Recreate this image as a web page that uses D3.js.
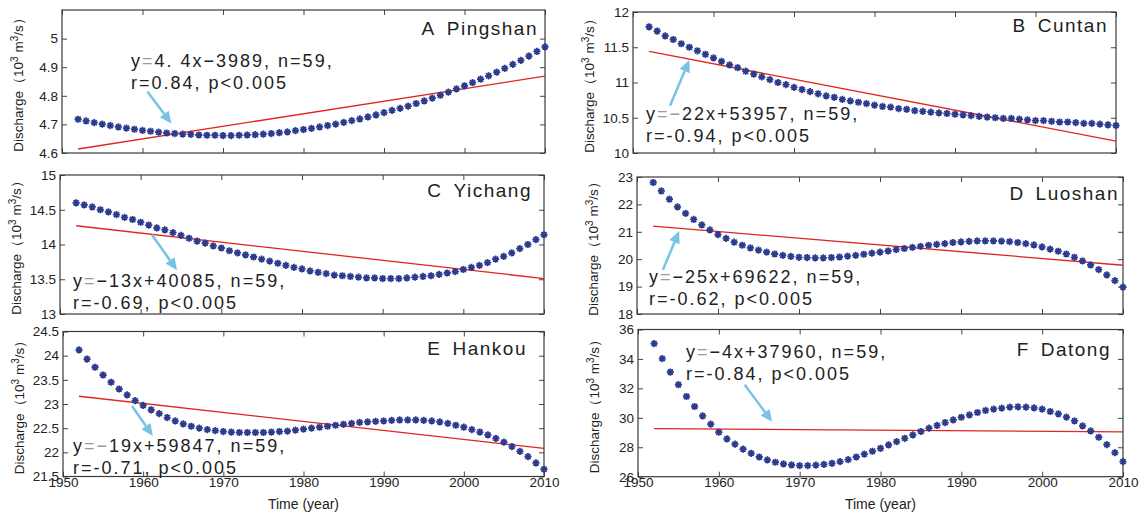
<!DOCTYPE html>
<html>
<head>
<meta charset="utf-8">
<script src="https://cdn.jsdelivr.net/npm/d3@7"></script>
<style>
  body { margin: 0; background: #fff; }
  svg { display: block; }
</style>
</head>
<body>
<svg id="root"></svg>
<script>
// years on the x axis, one point per year
const years = d3.range(1952, 2011);
const xTicks = [1950, 1960, 1970, 1980, 1990, 2000, 2010];

// discharge (10^3 m3/s)
const pingshan = [4.718, 4.712, 4.706, 4.701, 4.696, 4.691, 4.687, 4.683, 4.679, 4.676,
  4.673, 4.670, 4.668, 4.666, 4.665, 4.663, 4.662, 4.662, 4.661, 4.661,
  4.662, 4.663, 4.664, 4.666, 4.668, 4.671, 4.674, 4.678, 4.682, 4.686,
  4.691, 4.696, 4.701, 4.707, 4.713, 4.719, 4.726, 4.733, 4.741, 4.749,
  4.756, 4.764, 4.773, 4.782, 4.792, 4.802, 4.813, 4.824, 4.835, 4.846,
  4.858, 4.870, 4.883, 4.896, 4.910, 4.924, 4.939, 4.955, 4.971];
const cuntan = [11.79, 11.73, 11.66, 11.61, 11.55, 11.50, 11.45, 11.40, 11.35, 11.30,
  11.25, 11.21, 11.16, 11.12, 11.08, 11.04, 11.00, 10.97, 10.93, 10.90,
  10.87, 10.84, 10.81, 10.79, 10.76, 10.74, 10.72, 10.70, 10.68, 10.66,
  10.65, 10.63, 10.62, 10.60, 10.59, 10.58, 10.57, 10.56, 10.55, 10.54,
  10.53, 10.52, 10.51, 10.50, 10.49, 10.49, 10.48, 10.47, 10.46, 10.46,
  10.45, 10.44, 10.44, 10.43, 10.42, 10.42, 10.41, 10.40, 10.39];
const yichang = [14.60, 14.57, 14.54, 14.50, 14.47, 14.43, 14.39, 14.36, 14.32, 14.28,
  14.24, 14.21, 14.17, 14.13, 14.09, 14.05, 14.02, 13.98, 13.95, 13.91,
  13.88, 13.85, 13.82, 13.79, 13.76, 13.73, 13.70, 13.67, 13.65, 13.62,
  13.60, 13.58, 13.56, 13.55, 13.54, 13.53, 13.52, 13.52, 13.51, 13.51,
  13.51, 13.52, 13.53, 13.54, 13.55, 13.57, 13.59, 13.61, 13.64, 13.67,
  13.70, 13.74, 13.79, 13.83, 13.88, 13.94, 14.00, 14.07, 14.14];
const luoshan = [22.80, 22.49, 22.19, 21.91, 21.67, 21.45, 21.25, 21.07, 20.90, 20.76,
  20.62, 20.51, 20.41, 20.33, 20.26, 20.19, 20.14, 20.10, 20.07, 20.06,
  20.05, 20.05, 20.06, 20.08, 20.11, 20.14, 20.18, 20.22, 20.26, 20.30,
  20.35, 20.39, 20.43, 20.47, 20.51, 20.54, 20.57, 20.61, 20.63, 20.65,
  20.67, 20.67, 20.67, 20.66, 20.64, 20.61, 20.57, 20.52, 20.45, 20.37,
  20.29, 20.19, 20.07, 19.94, 19.79, 19.62, 19.43, 19.22, 18.98];
const hankou = [24.12, 23.93, 23.76, 23.60, 23.45, 23.31, 23.19, 23.07, 22.97, 22.88,
  22.80, 22.72, 22.65, 22.59, 22.54, 22.50, 22.47, 22.45, 22.43, 22.42,
  22.41, 22.41, 22.41, 22.41, 22.42, 22.43, 22.44, 22.46, 22.48, 22.50,
  22.52, 22.54, 22.56, 22.58, 22.60, 22.62, 22.63, 22.64, 22.65, 22.66,
  22.67, 22.67, 22.67, 22.66, 22.65, 22.63, 22.60, 22.56, 22.52, 22.47,
  22.42, 22.36, 22.29, 22.21, 22.12, 22.02, 21.91, 21.78, 21.65];
const datong = [35.04, 34.02, 33.11, 32.25, 31.45, 30.77, 30.13, 29.57, 29.02, 28.57,
  28.21, 27.87, 27.59, 27.34, 27.14, 26.98, 26.87, 26.80, 26.75, 26.75,
  26.79, 26.84, 26.91, 27.02, 27.16, 27.34, 27.53, 27.73, 27.93, 28.16,
  28.38, 28.61, 28.84, 29.07, 29.30, 29.48, 29.68, 29.86, 30.04, 30.20,
  30.36, 30.50, 30.59, 30.66, 30.73, 30.75, 30.73, 30.68, 30.59, 30.43,
  30.27, 30.05, 29.79, 29.45, 29.11, 28.68, 28.18, 27.64, 27.02];

// linear trend, value at 1952 and at 2010
const fitStart = [4.614, 11.44, 14.27, 21.21, 23.16, 29.27];
const fitEnd = [4.869, 10.17, 13.51, 19.78, 22.08, 29.04];

const letters = ['A', 'B', 'C', 'D', 'E', 'F'];
const stations = ['Pingshan', 'Cuntan', 'Yichang', 'Luoshan', 'Hankou', 'Datong'];
const yDomains = [[4.6, 5.1], [10, 12], [13, 15], [18, 23], [21.5, 24.5], [26, 36]];
const yTicks = [
  [4.6, 4.7, 4.8, 4.9, 5],
  [10, 10.5, 11, 11.5, 12],
  [13, 13.5, 14, 14.5, 15],
  [18, 19, 20, 21, 22, 23],
  [21.5, 22, 22.5, 23, 23.5, 24, 24.5],
  [26, 28, 30, 32, 34, 36]
];

// equation text: [piece, greyed]
const eqLine1 = [
  [['y', 0], ['=', 1], ['4. 4x−3989, n=59,', 0]],
  [['y', 0], ['=−', 1], ['22x+53957, n=59,', 0]],
  [['y', 0], ['=', 1], ['−13x+40085, n=59,', 0]],
  [['y', 0], ['=', 1], ['−25x+69622, n=59,', 0]],
  [['y', 0], ['=−', 1], ['19x+59847, n=59,', 0]],
  [['y', 0], ['=', 1], ['−4x+37960, n=59,', 0]]
];
const eqLine2 = ['r=0.84, p<0.005', 'r=-0.94, p<0.005', 'r=-0.69, p<0.005',
  'r=-0.62, p<0.005', 'r=-0.71, p<0.005', 'r=-0.84, p<0.005'];

// arrows pointing from the text to the trend line, in data units [year, value]
const arrowTail = [[1960.6, 4.815], [1954.6, 10.67], [1961.4, 14.14], [1953.2, 19.61], [1958.6, 22.96], [1963.2, 32.25]];
const arrowHead = [[1963.6, 4.703], [1957.0, 11.32], [1964.5, 13.63], [1955.2, 21.03], [1961.2, 22.34], [1966.6, 29.73]];

const series = [pingshan, cuntan, yichang, luoshan, hankou, datong];

// layout (pixels)
const boxes = [
  [62, 10, 545, 153], [633, 12, 1116, 153],
  [60, 175, 544, 314], [637, 177, 1123, 314],
  [63, 331.5, 544, 476.5], [638, 329.5, 1123, 476.7]
];
const titleAt = [[7, 25], [8, 20], [12, 22], [4, 23], [17, 23.5], [12, 26.5]];
const textAt = [[69, 57], [13, 108], [13, 112], [12, 106], [10, 120.5], [48, 28.5]];

const font = 'Liberation Sans, Arial, Helvetica, sans-serif';
const ink = '#222';
const markColor = '#2d3b8e';

const svg = d3.select('#root').attr('width', 1147).attr('height', 515)
  .attr('font-family', font);

const r = 3.6, q = r * 0.7071;
const star = `M${-r},0L${r},0M0,${-r}L0,${r}M${-q},${-q}L${q},${q}M${-q},${q}L${q},${-q}`;

series.forEach((values, i) => {
  const [x0, y0, x1, y1] = boxes[i];
  const bottomRow = i >= 4;
  const x = d3.scaleLinear().domain([1950, 2010]).range([x0, x1]);
  const y = d3.scaleLinear().domain(yDomains[i]).range([y1, y0]);
  const g = svg.append('g');

  // axes with inward ticks on all four sides
  const axL = g.append('g').attr('transform', `translate(${x0},0)`)
    .call(d3.axisLeft(y).tickValues(yTicks[i]).tickSizeInner(-5).tickSizeOuter(0)
      .tickPadding(4).tickFormat(d => String(d)));
  const axR = g.append('g').attr('transform', `translate(${x1},0)`)
    .call(d3.axisRight(y).tickValues(yTicks[i]).tickSizeInner(-5).tickSizeOuter(0).tickFormat(''));
  const axB = g.append('g').attr('transform', `translate(0,${y1})`)
    .call(d3.axisBottom(x).tickValues(xTicks).tickSizeInner(-5).tickSizeOuter(0)
      .tickPadding(1).tickFormat(bottomRow ? d3.format('d') : ''));
  const axT = g.append('g').attr('transform', `translate(0,${y0})`)
    .call(d3.axisTop(x).tickValues(xTicks).tickSizeInner(-5).tickSizeOuter(0).tickFormat(''));
  [axL, axR, axB, axT].forEach(a => {
    a.select('.domain').remove();
    a.selectAll('line').attr('stroke', '#444');
    a.selectAll('text').attr('font-size', 13.5).attr('fill', ink).attr('font-family', font);
  });

  g.append('rect').attr('x', x0).attr('y', y0).attr('width', x1 - x0).attr('height', y1 - y0)
    .attr('fill', 'none').attr('stroke', '#3a3a3a').attr('stroke-width', 1.2);

  // y label
  const yl = g.append('text')
    .attr('transform', `translate(${x0 - 39},${(y0 + y1) / 2}) rotate(-90)`)
    .attr('text-anchor', 'middle').attr('font-size', 13.5).attr('fill', ink);
  yl.append('tspan').text('Discharge（10');
  yl.append('tspan').attr('dy', -5).attr('font-size', 10).text('3');
  yl.append('tspan').attr('dy', 5).text(' m');
  yl.append('tspan').attr('dy', -5).attr('font-size', 10).text('3');
  yl.append('tspan').attr('dy', 5).text('/s）');

  if (bottomRow) {
    g.append('text').attr('x', (x0 + x1) / 2).attr('y', 509)
      .attr('text-anchor', 'middle').attr('font-size', 14).attr('fill', ink)
      .text('Time (year)');
  }

  // trend line
  g.append('line')
    .attr('x1', x(years[0])).attr('y1', y(fitStart[i]))
    .attr('x2', x(years[years.length - 1])).attr('y2', y(fitEnd[i]))
    .attr('stroke', '#e3231f').attr('stroke-width', 1.3);

  // asterisk markers
  g.append('g').selectAll('path').data(values).join('path')
    .attr('transform', (d, j) => `translate(${x(years[j])},${y(d)})`)
    .attr('d', star).attr('fill', 'none')
    .attr('stroke', markColor).attr('stroke-width', 1.8);

  // title
  g.append('text').attr('x', x1 - titleAt[i][0]).attr('y', y0 + titleAt[i][1])
    .attr('text-anchor', 'end').attr('font-size', 19).attr('letter-spacing', 1.5)
    .attr('fill', ink).text(letters[i] + '\u2002' + stations[i]);

  // equation text
  const tx = x0 + textAt[i][0], ty = y0 + textAt[i][1];
  const t1 = g.append('text').attr('x', tx).attr('y', ty)
    .attr('font-size', 18).attr('letter-spacing', 2).attr('fill', ink);
  eqLine1[i].forEach(([s, grey]) => t1.append('tspan').attr('fill', grey ? '#9a9a9a' : ink).text(s));
  g.append('text').attr('x', tx).attr('y', ty + 22)
    .attr('font-size', 18).attr('letter-spacing', 2).attr('fill', ink).text(eqLine2[i]);

  // arrow
  const ax0 = x(arrowTail[i][0]), ay0 = y(arrowTail[i][1]);
  const ax1 = x(arrowHead[i][0]), ay1 = y(arrowHead[i][1]);
  const ang = Math.atan2(ay1 - ay0, ax1 - ax0);
  const len = 12, half = 5.5;
  const bx = ax1 - len * Math.cos(ang), by = ay1 - len * Math.sin(ang);
  g.append('line').attr('x1', ax0).attr('y1', ay0).attr('x2', bx).attr('y2', by)
    .attr('stroke', '#77c3e6').attr('stroke-width', 2.5);
  g.append('path')
    .attr('d', `M${ax1},${ay1}L${bx - half * Math.sin(ang)},${by + half * Math.cos(ang)}L${bx + half * Math.sin(ang)},${by - half * Math.cos(ang)}Z`)
    .attr('fill', '#77c3e6');
});
</script>
</body>
</html>
